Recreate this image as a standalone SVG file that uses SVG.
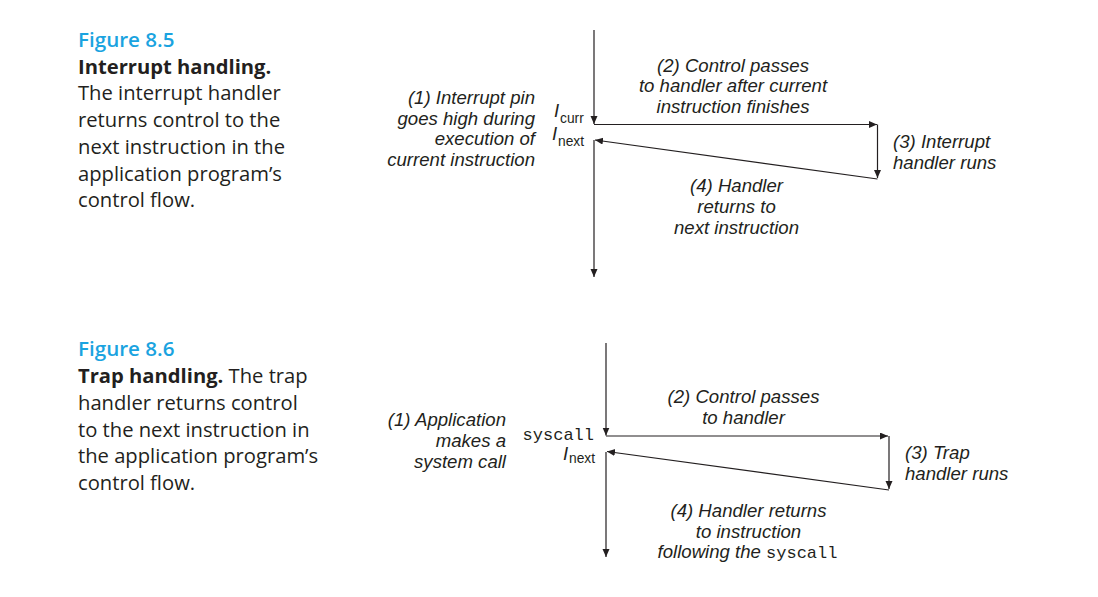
<svg xmlns="http://www.w3.org/2000/svg" width="1098" height="597" viewBox="0 0 1098 597">
<style>
.cap{font-family:"Open Sans","Noto Sans",sans-serif;font-size:20.2px;fill:#231f20}
.fig{font-family:"Open Sans","Noto Sans",sans-serif;font-size:20.6px;font-weight:600;fill:#1aa3e0}
.b{font-weight:700}
.lbl{font-family:"Liberation Sans",Arial,sans-serif;font-style:italic;font-size:18.6px;fill:#231f20}
.sub{font-family:"Liberation Sans",Arial,sans-serif;font-style:normal;font-size:13.8px;fill:#231f20}
.mono{font-family:"Liberation Mono","Courier New",monospace;font-style:normal;font-size:17px;fill:#231f20}
.ln{stroke:#231f20;stroke-width:1.2;fill:none;marker-end:url(#ah)}
</style>
<defs>
<marker id="ah" markerUnits="userSpaceOnUse" markerWidth="10" markerHeight="10" refX="8" refY="3.5" orient="auto">
<path d="M0,0 L8,3.5 L0,7 Z" fill="#231f20"/>
</marker>
</defs>
<rect width="1098" height="597" fill="#ffffff"/>

<g id="caption-8-5">
<text class="fig" x="78" y="47">Figure 8.5</text>
<text class="cap b" x="78" y="73.7">Interrupt handling.</text>
<text class="cap" x="78" y="100.4">The interrupt handler</text>
<text class="cap" x="78" y="127.1">returns control to the</text>
<text class="cap" x="78" y="153.8">next instruction in the</text>
<text class="cap" x="78" y="180.5">application program’s</text>
<text class="cap" x="78" y="207.2">control flow.</text>
</g>

<g id="caption-8-6">
<text class="fig" x="78" y="356">Figure 8.6</text>
<text class="cap" x="78" y="383.3"><tspan class="b">Trap handling.</tspan> The trap</text>
<text class="cap" x="78" y="410">handler returns control</text>
<text class="cap" x="78" y="436.7">to the next instruction in</text>
<text class="cap" x="78" y="463.4">the application program’s</text>
<text class="cap" x="78" y="490.1">control flow.</text>
</g>

<g id="connectors">
<path class="ln" d="M594,30 L594,124"/>
<path class="ln" d="M594,124.5 L877,124.5"/>
<path class="ln" d="M877.5,124.5 L877.5,178"/>
<path class="ln" d="M877.5,179 L595,140"/>
<path class="ln" d="M594,140 L594,277"/>

<path class="ln" d="M606,343 L606,435.5"/>
<path class="ln" d="M606,436 L888,436"/>
<path class="ln" d="M889,436 L889,489"/>
<path class="ln" d="M889,490 L607,451.5"/>
<path class="ln" d="M606,452 L606,557"/>
</g>

<g id="fig85-step1">
<text class="lbl" text-anchor="end" x="535" y="104">(1) Interrupt pin</text>
<text class="lbl" text-anchor="end" x="535" y="124.5">goes high during</text>
<text class="lbl" text-anchor="end" x="535" y="145">execution of</text>
<text class="lbl" text-anchor="end" x="535" y="166">current instruction</text>
</g>
<g id="fig85-icurr">
<text class="lbl" x="554" y="117">I</text><text class="sub" x="560" y="122.5">curr</text>
</g>
<g id="fig85-inext">
<text class="lbl" x="552" y="140">I</text><text class="sub" x="558" y="145.5">next</text>
</g>
<g id="fig85-step2">
<text class="lbl" text-anchor="middle" x="733" y="71.5">(2) Control passes</text>
<text class="lbl" text-anchor="middle" x="733" y="92">to handler after current</text>
<text class="lbl" text-anchor="middle" x="733" y="112.5">instruction finishes</text>
</g>
<g id="fig85-step3">
<text class="lbl" x="893" y="147.5">(3) Interrupt</text>
<text class="lbl" x="893" y="168.5">handler runs</text>
</g>
<g id="fig85-step4">
<text class="lbl" text-anchor="middle" x="736.5" y="192">(4) Handler</text>
<text class="lbl" text-anchor="middle" x="736.5" y="213">returns to</text>
<text class="lbl" text-anchor="middle" x="736.5" y="234">next instruction</text>
</g>

<g id="fig86-step1">
<text class="lbl" text-anchor="end" x="506" y="426.3">(1) Application</text>
<text class="lbl" text-anchor="end" x="506" y="447">makes a</text>
<text class="lbl" text-anchor="end" x="506" y="468">system call</text>
</g>
<g id="fig86-syscall">
<text class="mono" text-anchor="end" x="594" y="440">syscall</text>
</g>
<g id="fig86-inext">
<text class="lbl" x="563" y="460">I</text><text class="sub" x="569" y="462.7">next</text>
</g>
<g id="fig86-step2">
<text class="lbl" text-anchor="middle" x="743.5" y="403.3">(2) Control passes</text>
<text class="lbl" text-anchor="middle" x="743.5" y="423.8">to handler</text>
</g>
<g id="fig86-step3">
<text class="lbl" x="905" y="459">(3) Trap</text>
<text class="lbl" x="905" y="479.5">handler runs</text>
</g>
<g id="fig86-step4">
<text class="lbl" text-anchor="middle" x="748.5" y="516.7">(4) Handler returns</text>
<text class="lbl" text-anchor="middle" x="748.5" y="537.7">to instruction</text>
<text class="lbl" text-anchor="middle" x="747.5" y="558">following the <tspan class="mono">syscall</tspan></text>
</g>
</svg>
